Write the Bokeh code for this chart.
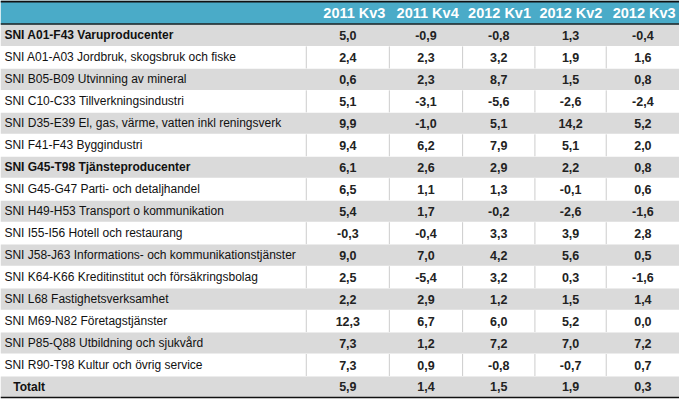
from bokeh.plotting import figure
from bokeh.models import ColumnDataSource, Range1d
from bokeh.core.properties import value
from bokeh.embed import file_html
from bokeh.resources import INLINE

periods = ["2011 Kv3", "2011 Kv4", "2012 Kv1", "2012 Kv2", "2012 Kv3"]
sectors = [
    "SNI A01-F43 Varuproducenter",
    "SNI A01-A03 Jordbruk, skogsbruk och fiske",
    "SNI B05-B09 Utvinning av mineral",
    "SNI C10-C33 Tillverkningsindustri",
    "SNI D35-E39 El, gas, värme, vatten inkl reningsverk",
    "SNI F41-F43 Byggindustri",
    "SNI G45-T98 Tjänsteproducenter",
    "SNI G45-G47 Parti- och detaljhandel",
    "SNI H49-H53 Transport o kommunikation",
    "SNI I55-I56 Hotell och restaurang",
    "SNI J58-J63 Informations- och kommunikationstjänster",
    "SNI K64-K66 Kreditinstitut och försäkringsbolag",
    "SNI L68 Fastighetsverksamhet",
    "SNI M69-N82 Företagstjänster",
    "SNI P85-Q88 Utbildning och sjukvård",
    "SNI R90-T98 Kultur och övrig service",
    "Totalt",
]
bold_sector = [True, False, False, False, False, False, True, False, False,
               False, False, False, False, False, False, False, True]
v_2011_kv3 = [5.0, 2.4, 0.6, 5.1, 9.9, 9.4, 6.1, 6.5, 5.4, -0.3, 9.0, 2.5, 2.2, 12.3, 7.3, 7.3, 5.9]
v_2011_kv4 = [-0.9, 2.3, 2.3, -3.1, -1.0, 6.2, 2.6, 1.1, 1.7, -0.4, 7.0, -5.4, 2.9, 6.7, 1.2, 0.9, 1.4]
v_2012_kv1 = [-0.8, 3.2, 8.7, -5.6, 5.1, 7.9, 2.9, 1.3, -0.2, 3.3, 4.2, 3.2, 1.2, 6.0, 7.2, -0.8, 1.5]
v_2012_kv2 = [1.3, 1.9, 1.5, -2.6, 14.2, 5.1, 2.2, -0.1, -2.6, 3.9, 5.6, 0.3, 1.5, 5.2, 7.0, -0.7, 1.9]
v_2012_kv3 = [-0.4, 1.6, 0.8, -2.4, 5.2, 2.0, 0.8, 0.6, -1.6, 2.8, 0.5, -1.6, 1.4, 0.0, 7.2, 0.7, 0.3]
series = [v_2011_kv3, v_2011_kv4, v_2012_kv1, v_2012_kv2, v_2012_kv3]

# layout (pixel-like coordinates)
col_edges = [0, 313, 398, 473, 547, 620, 695]
W = 695
TOP = -1.59
BOTTOM = 16.57
TEAL = "#4aabc8"
GREY = "#dadada"

n = len(sectors)
p = figure(width=679, height=399, output_backend="svg", toolbar_location=None,
           x_range=Range1d(0, W), y_range=Range1d(BOTTOM, TOP),
           min_border=0, outline_line_color=None, background_fill_color="white")
p.axis.visible = False
p.grid.visible = False

# row backgrounds
rows = list(range(n))
p.rect(x=[W / 2] * n, y=rows, width=W, height=[0.96] * n,
       fill_color=[GREY if i % 2 == 0 else "white" for i in rows], line_color=None)

# vertical separators on white rows
xs0, ys0, ys1 = [], [], []
for i in rows:
    if i % 2 == 1:
        for e in col_edges[1:-1]:
            xs0.append(e); ys0.append(i - 0.5); ys1.append(i + 0.5)
p.segment(x0=xs0, y0=ys0, x1=xs0, y1=ys1, line_color="#cccccc", line_width=1)

# header
p.quad(left=[0], right=[W], top=[TOP], bottom=[-0.5], fill_color=TEAL, line_color=None)
p.quad(left=[0], right=[W], top=[TOP], bottom=[TOP + 0.09], fill_color="#111111", line_color=None)
p.segment(x0=[0], y0=[-0.52], x1=[W], y1=[-0.52], line_color="#222222", line_width=1.5)
p.segment(x0=[0], y0=[16.48], x1=[W], y1=[16.48], line_color="#111111", line_width=1.5)

hdr = ColumnDataSource(dict(x=[col_edges[j + 2] - 4 for j in range(5)], y=[-1.03] * 5, t=periods))
p.text(x="x", y="y", text="t", source=hdr, text_color="white", text_font=value("Liberation Sans"),
       text_font_style="bold", text_font_size="14.5px", text_align="right", text_baseline="middle")

# sector labels
lab = ColumnDataSource(dict(
    x=[13 if s == "Totalt" else 4 for s in sectors], y=rows, t=sectors,
    st=["bold" if b else "normal" for b in bold_sector]))
p.text(x="x", y="y", text="t", source=lab, text_color="#111111", text_font=value("Liberation Sans"),
       text_font_style="st", text_font_size="12px", text_align="left", text_baseline="middle")

# values
vx, vy, vt = [], [], []
for j, vals in enumerate(series):
    cx = (col_edges[j + 1] + col_edges[j + 2]) / 2
    for i, v in enumerate(vals):
        vx.append(cx); vy.append(i); vt.append(f"{v:.1f}".replace(".", ","))
vs = ColumnDataSource(dict(x=vx, y=vy, t=vt))
p.text(x="x", y="y", text="t", source=vs, text_color="#222222", text_font=value("Liberation Sans"),
       text_font_style="bold", text_font_size="12.5px", text_align="center", text_baseline="middle")

open("out.html", "w").write(file_html(p, INLINE))
